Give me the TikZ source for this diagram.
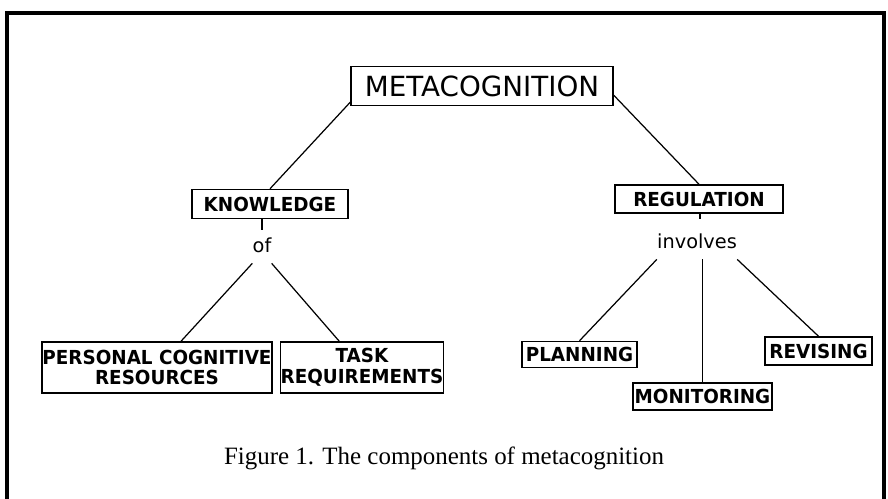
\documentclass[tikz,border=0pt]{standalone}
\usepackage{fontspec}
\setmainfont{Liberation Serif}
\newfontfamily\boxfont{DejaVu Sans}
\newfontfamily\tagfont{DejaVu Sans}[FakeStretch=0.95]
\usetikzlibrary{positioning}

\begin{document}
\begin{tikzpicture}[x=0.02cm, y=-0.02cm,
    box/.style={draw, line width=0.85pt, inner sep=0pt, align=center, font=\tagfont\bfseries\fontsize{11}{11.8}\selectfont},
    word/.style={inner xsep=0pt, inner ysep=6pt, font=\boxfont\fontsize{11}{13}\selectfont},
    link/.style={line width=0.7pt}]
        \useasboundingbox (0,0) rectangle (888,499);
        % Frame
        \draw[line width=2.3pt] (7,510) -- (7,13) -- (884,13) -- (884,510);
        % Top node
        \node[box, font=\boxfont\fontsize{15.8}{18}\selectfont, minimum width=5.24cm, minimum height=0.78cm] (meta) at (482,86) {METACOGNITION};
        % Knowledge side
        \node[box, minimum width=3.12cm, minimum height=0.58cm] (know) at (270,204) {KNOWLEDGE};
        \node[word] (of) at (262,245) {of};
        \node[box, minimum width=4.6cm, minimum height=1.02cm] (pers) at (157,367.5) {PERSONAL COGNITIVE\\RESOURCES};
        \node[box, minimum width=2.8cm, minimum height=1.02cm] (task) at (362,367.5) {TASK\\REQUIREMENTS};
        % Regulation side
        \node[box, minimum width=3.36cm, minimum height=0.56cm] (reg) at (699,199) {REGULATION};
        \node[word] (inv) at (697,241) {involves};
        \node[box, minimum width=2.3cm, minimum height=0.52cm] (plan) at (579.5,354.5) {PLANNING};
        \node[box, minimum width=2.78cm, minimum height=0.54cm] (mon) at (702.5,396.5) {MONITORING};
        \node[box, minimum width=2.14cm, minimum height=0.56cm] (rev) at (818.5,351) {REVISING};
        % Caption
        \node[font=\fontsize{14.2}{17}\selectfont] (cap) at (444,458) {Figure 1. The components of metacognition};
        % Links
        \draw[link] (meta.187) -- (know.north);
        \draw[link] (meta.-4) -- (reg.north);
        \coordinate (knowstub) at (262,230);
        \draw[link] (know.south -| knowstub) -- (knowstub);
        \draw[link] (of.south west) -- (pers);
        \draw[link] (of.south east) -- (task);
        \coordinate (regstub) at (700,219);
        \draw[link] (reg.south -| regstub) -- (regstub);
        \draw[link] (inv.south west) -- (plan.north);
        \draw[link] (mon.north |- inv.south) -- (mon.north);
        \draw[link] (inv.south east) -- (rev.north);
    \end{tikzpicture}
\end{document}
